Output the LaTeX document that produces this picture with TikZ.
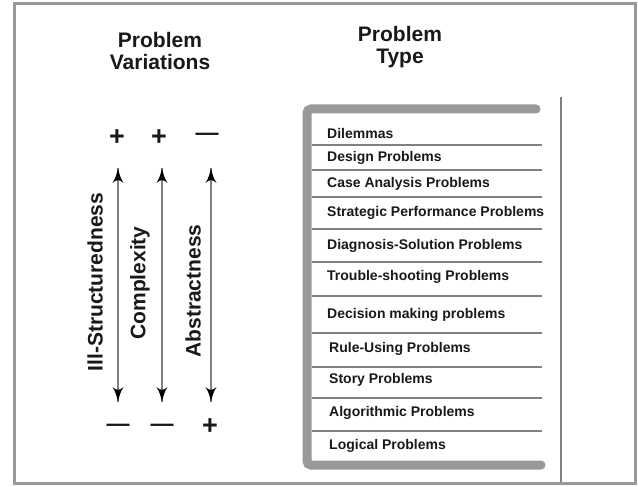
\documentclass[tikz,border=0pt]{standalone}
\usepackage{fontspec}
\setmainfont{Liberation Sans}
\usepackage{tikz}
\usetikzlibrary{arrows}
\usetikzlibrary{decorations.markings}
\usetikzlibrary{positioning}
\definecolor{rim}{gray}{0.6}
\definecolor{ink}{gray}{0.1}
\tikzset{vary/.style = {draw=gray, line width=2,
                        decoration={markings,
                                    mark=at position 0 with {\arrowreversed[black,scale=1.7]{latex'}},
                                    mark=at position 1 with {\arrow[black,scale=1.7]{latex'}}},
                        postaction={decorate}}}
\tikzset{head/.style = {align=center, text=ink, inner sep=0,
                        font=\fontsize{21}{22}\selectfont\bfseries}}
\tikzset{lbl/.style = {rotate=90, text=ink, inner sep=0,
                       font=\fontsize{21}{22}\selectfont\bfseries}}
\tikzset{sign/.style = {text=ink, inner sep=0,
                        font=\fontsize{27}{27}\selectfont\bfseries}}
\tikzset{item/.style = {anchor=west, text=ink, inner sep=0,
                        font=\fontsize{14}{16}\selectfont\bfseries}}
\tikzset{sep/.style = {draw=gray, line width=1.6}}

\begin{document}
\begin{tikzpicture}[x=1pt, y=-1pt]
      \useasboundingbox (0,0) rectangle (638,487);
      \fill[white] (0,0) rectangle (638,487);
      \draw[rim, line width=3] (14.5,4) rectangle (635.5,483.5);

      % headings
      \node [head] (var) at (160,51) {Problem\\Variations};
      \node [head] (typ) at (400,47) {Problem\\Type};

      % variation scales
      \node [sign] (ptop1) at (117,138) {+};
      \node [sign] (ptop2) at (159,138) {+};
      \node [sign, font=\fontsize{23}{23}\selectfont\bfseries] (mtop3) at (207,137) {—};
      \node [sign, font=\fontsize{23}{23}\selectfont\bfseries] (mbot1) at (118,428) {—};
      \node [sign, font=\fontsize{23}{23}\selectfont\bfseries] (mbot2) at (162,428) {—};
      \node [sign] (pbot3) at (210,427) {+};

      \coordinate (ill1) at (118,168);
      \coordinate (ill2) at (118,402);
      \coordinate (com1) at (162,168);
      \coordinate (com2) at (162,402);
      \coordinate (abs1) at (211,168);
      \coordinate (abs2) at (211,402);
      \draw [vary] (ill1) -- (ill2);
      \draw [vary] (com1) -- (com2);
      \draw [vary] (abs1) -- (abs2);

      \node [lbl] (ill) at (95,282) {Ill-Structuredness};
      \node [lbl] (com) at (140,283) {Complexity};
      \node [lbl] (abs) at (193,291) {Abstractness};

      % problem type list
      \draw [rim, line width=9, rounded corners=4, line cap=round]
            (536,109) -- (307,109) -- (307,465) -- (541,465);
      \draw [gray, line width=2] (561,97) -- (561,482);
      \draw [sep] (312,145) -- (542,145) (312,170) -- (542,170)
                  (312,197) -- (542,197) (312,229) -- (542,229)
                  (312,262) -- (542,262) (312,296) -- (542,296)
                  (312,333) -- (542,333) (312,367) -- (542,367)
                  (312,398) -- (542,398) (312,431) -- (542,431);

      \node [item] (dil) at (327,133) {Dilemmas};
      \node [item] (des) at (327,158) {Design Problems};
      \node [item] (cas) at (327,184) {Case Analysis Problems};
      \node [item] (str) at (327,213) {Strategic Performance Problems};
      \node [item] (dia) at (327,246) {Diagnosis-Solution Problems};
      \node [item] (tro) at (327,277) {Trouble-shooting Problems};
      \node [item] (dec) at (327,315) {Decision making problems};
      \node [item] (rul) at (329,349) {Rule-Using Problems};
      \node [item] (sto) at (329,380) {Story Problems};
      \node [item] (alg) at (329,413) {Algorithmic Problems};
      \node [item] (log) at (329,446) {Logical Problems};
    \end{tikzpicture}
\end{document}
